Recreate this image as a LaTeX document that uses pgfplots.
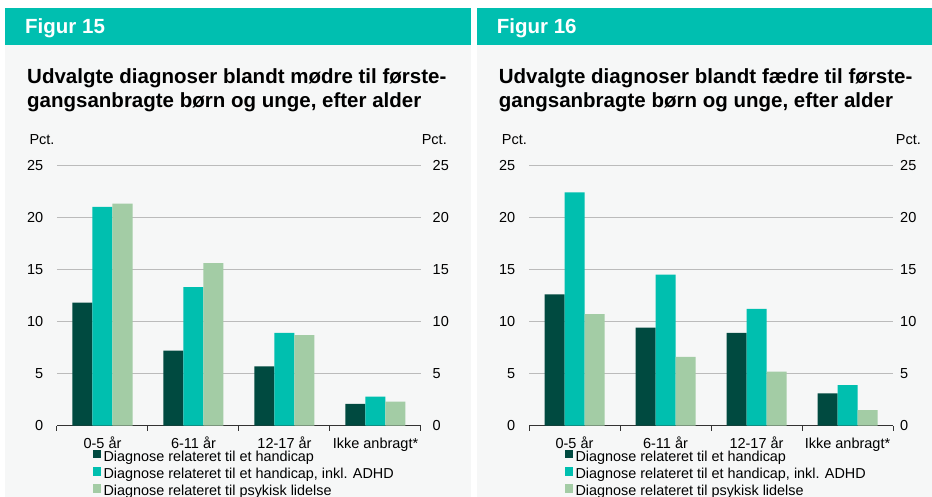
\documentclass[border=0pt]{standalone}
\usepackage{fontspec}
\setmainfont{Liberation Sans}
\usepackage{pgfplots}
\usepackage{pgfplotstable}
\pgfplotsset{compat=1.18}

\definecolor{headteal}{HTML}{00BFB0}
\definecolor{panelbg}{HTML}{F6F7F7}
\definecolor{cdark}{HTML}{004A40}
\definecolor{cteal}{HTML}{00BFAF}
\definecolor{clight}{HTML}{A3CCA5}
\definecolor{gridgray}{HTML}{BBBBBB}

% mothers (figur 15)
\pgfplotstableread{
x handicap adhd psyk
0 11.8 21.0 21.3
1 7.2 13.3 15.6
2 5.7 8.9 8.7
3 2.1 2.8 2.3
}\moedre

% fathers (figur 16)
\pgfplotstableread{
x handicap adhd psyk
0 12.6 22.4 10.7
1 9.4 14.5 6.6
2 8.9 11.2 5.2
3 3.1 3.9 1.5
}\faedre

\pgfplotsset{
  panelbase/.style={
    scale only axis, width=364pt, height=260.5pt,
    anchor=south west,
    xmin=-0.5, xmax=3.5, ymin=0, ymax=25,
    ytick={0,5,...,25},
    major tick length=0pt,
    tick label style={font=\fontsize{14.5}{17}\selectfont, inner sep=0pt},
    /pgf/number format/assume math mode=true,
  },
  barpanel/.style={
    panelbase,
    ybar=0pt, bar width=20pt,
    axis x line*=bottom, axis y line*=left,
    y axis line style={draw=none},
    x axis line style={black!80, line width=1.2pt},
    ytick style={draw=none},
    ymajorgrids, grid style={gridgray, line width=0.9pt},
    xtick={0,1,2,3},
    xticklabels={0-5 år,6-11 år,12-17 år,Ikke anbragt*},
    major x tick style={draw=none},
    minor xtick={-0.5,0.5,1.5,2.5,3.5},
    tick align=outside,
    minor tick length=5pt,
    minor x tick style={black!80, line width=1pt},
    xticklabel style={anchor=base, yshift=-22.5pt},
    yticklabel style={anchor=east, xshift=-13.5pt},
    legend style={at={(axis description cs:0.097,-0.092)}, anchor=north west,
      draw=none, fill=none, inner sep=0pt, row sep=2.3pt,
      font=\fontsize{14.4}{17}\selectfont,
      nodes={inner sep=0pt, text height=10.5pt, text depth=3.5pt}},
    legend cell align=left,
    legend image code/.code={\fill[#1,draw=none] (0pt,-0.5pt) rectangle (8.5pt,8pt); \path (11pt,0pt);},
  },
  rightlabels/.style={
    panelbase,
    axis y line*=right, axis x line=none,
    y axis line style={draw=none}, ytick style={draw=none},
    yticklabel style={anchor=west, xshift=#1},
  },
}

\begin{document}
\begin{tikzpicture}[x=1pt,y=1pt]
\useasboundingbox (0,0) rectangle (932,497);
\fill[white] (0,0) rectangle (932,497);
\fill[panelbg] (5,0) rectangle (471,451.5);
\fill[headteal] (5,451.5) rectangle (471,489);
\fill[panelbg] (476.7,0) rectangle (932,451.5);
\fill[headteal] (476.7,451.5) rectangle (932,489);

\node[anchor=base west, inner sep=0pt, text=white, font=\bfseries\fontsize{20.5}{24}\selectfont] at (25,463.7) {Figur 15};
\node[anchor=base west, inner sep=0pt, text=white, font=\bfseries\fontsize{20.5}{24}\selectfont] at (496.7,463.7) {Figur 16};

\node[anchor=base west, inner sep=0pt, font=\bfseries\fontsize{20.5}{24}\selectfont] at (27,413.7) {Udvalgte diagnoser blandt mødre til første-};
\node[anchor=base west, inner sep=0pt, font=\bfseries\fontsize{20.5}{24}\selectfont] at (27,389.7) {gangsanbragte børn og unge, efter alder};
\node[anchor=base west, inner sep=0pt, font=\bfseries\fontsize{20.5}{24}\selectfont] at (498.7,413.7) {Udvalgte diagnoser blandt fædre til første-};
\node[anchor=base west, inner sep=0pt, font=\bfseries\fontsize{20.5}{24}\selectfont] at (498.7,389.7) {gangsanbragte børn og unge, efter alder};

\node[anchor=base west, inner sep=0pt, font=\fontsize{14.5}{17}\selectfont] at (29.3,352.7) {Pct.};
\node[anchor=base east, inner sep=0pt, font=\fontsize{14.5}{17}\selectfont] at (447,352.7) {Pct.};
\node[anchor=base west, inner sep=0pt, font=\fontsize{14.5}{17}\selectfont] at (501.7,352.7) {Pct.};
\node[anchor=base east, inner sep=0pt, font=\fontsize{14.5}{17}\selectfont] at (921,352.7) {Pct.};

% Figur 15
\begin{axis}[barpanel, at={(57pt,71.3pt)}]
\addplot[fill=cdark, draw=none] table[x=x, y=handicap] {\moedre};
\addplot[fill=cteal, draw=none] table[x=x, y=adhd] {\moedre};
\addplot[fill=clight, draw=none] table[x=x, y=psyk] {\moedre};
\legend{Diagnose relateret til et handicap,
        {Diagnose relateret til et handicap, inkl. ADHD},
        Diagnose relateret til psykisk lidelse}
\end{axis}
\begin{axis}[rightlabels=11.5pt, at={(57pt,71.3pt)}]
\end{axis}

% Figur 16
\begin{axis}[barpanel, at={(529pt,71.3pt)}]
\addplot[fill=cdark, draw=none] table[x=x, y=handicap] {\faedre};
\addplot[fill=cteal, draw=none] table[x=x, y=adhd] {\faedre};
\addplot[fill=clight, draw=none] table[x=x, y=psyk] {\faedre};
\legend{Diagnose relateret til et handicap,
        {Diagnose relateret til et handicap, inkl. ADHD},
        Diagnose relateret til psykisk lidelse}
\end{axis}
\begin{axis}[rightlabels=7pt, at={(529pt,71.3pt)}]
\end{axis}
\end{tikzpicture}
\end{document}
